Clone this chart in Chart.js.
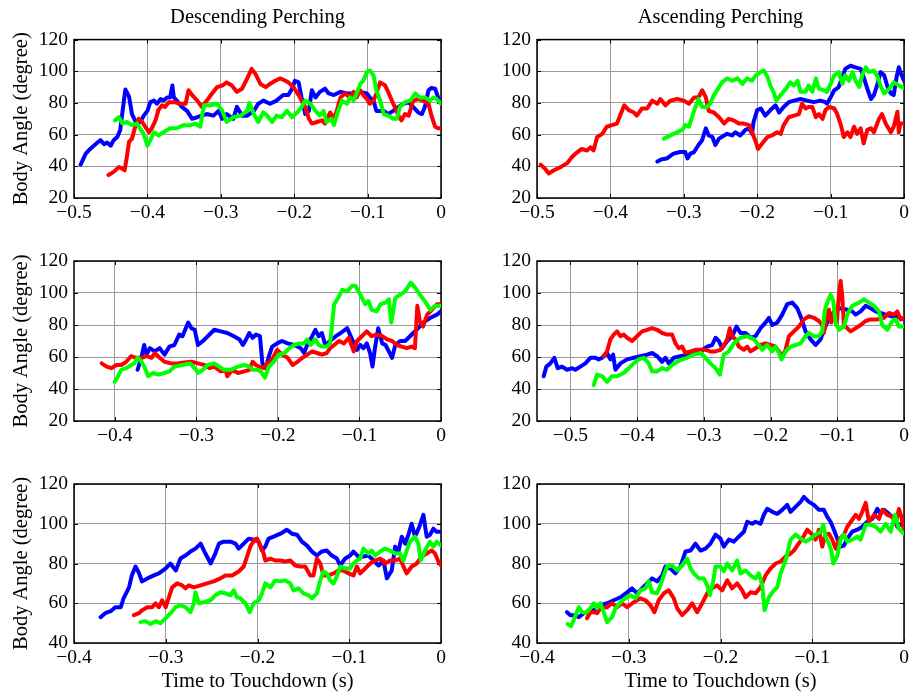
<!DOCTYPE html>
<html>
<head>
<meta charset="utf-8">
<script src="https://cdn.jsdelivr.net/npm/chart.js@4.4.0/dist/chart.umd.min.js"></script>
<style>
  html, body { margin: 0; padding: 0; background: #fff; }
  #fig { position: relative; width: 912px; height: 695px; overflow: hidden; background: #fff; }
  #fig canvas { position: absolute; }
</style>
</head>
<body>
<div id="fig"></div>
<script>
// Body angle (degree) versus time to touchdown (s), [t, angle] pairs per trial.

// ---- Descending perching ----
const desc1Blue = [[-0.491,41],[-0.484,48],[-0.478,51],[-0.468,55],[-0.464,56.5],[-0.459,54],[-0.455,55],[-0.45,53],[-0.446,56.5],[-0.441,58.5],[-0.437,63],[-0.432,81.5],[-0.43,88.5],[-0.425,84],[-0.421,73],[-0.416,68],[-0.41,68],[-0.405,72],[-0.4,75],[-0.396,80.5],[-0.391,81.5],[-0.387,79.5],[-0.382,82.5],[-0.378,81.5],[-0.373,83.5],[-0.369,83.5],[-0.366,91],[-0.364,83.5],[-0.36,81.5],[-0.353,77.5],[-0.346,75],[-0.339,70],[-0.332,71],[-0.326,72],[-0.319,73],[-0.31,72],[-0.303,75],[-0.298,70],[-0.292,73],[-0.283,70],[-0.278,77.5],[-0.271,72],[-0.264,72],[-0.255,75],[-0.249,79.5],[-0.242,81.5],[-0.233,79.5],[-0.224,81.5],[-0.215,85],[-0.208,85],[-0.203,89],[-0.199,94],[-0.194,93],[-0.19,83.5],[-0.185,73],[-0.18,75],[-0.176,88],[-0.171,83.5],[-0.165,87],[-0.158,89],[-0.153,86],[-0.146,85],[-0.137,87],[-0.128,86],[-0.119,86],[-0.11,87],[-0.101,86],[-0.097,83.5],[-0.092,81.5],[-0.088,75],[-0.078,75],[-0.072,73],[-0.065,75],[-0.058,77.5],[-0.051,79.5],[-0.044,80.5],[-0.038,77.5],[-0.031,74],[-0.026,73],[-0.022,77.5],[-0.017,88],[-0.013,89.5],[-0.008,89],[-0.004,83.5],[0,80.5]];
const desc1Red = [[-0.453,34.5],[-0.446,36.5],[-0.439,39.5],[-0.434,38.5],[-0.431,37.5],[-0.428,46],[-0.425,55.5],[-0.421,57.5],[-0.416,66],[-0.412,70],[-0.407,68],[-0.403,65],[-0.398,61.5],[-0.394,64],[-0.389,69],[-0.385,75.5],[-0.38,78.5],[-0.376,77.5],[-0.371,80.5],[-0.364,80.5],[-0.355,79.5],[-0.348,79.5],[-0.344,88],[-0.339,85],[-0.332,81.5],[-0.326,77.5],[-0.319,81.5],[-0.312,86],[-0.305,90],[-0.298,91],[-0.292,93],[-0.285,91],[-0.278,87],[-0.271,89],[-0.264,95.5],[-0.258,101.5],[-0.253,98.5],[-0.246,92],[-0.239,90],[-0.233,92],[-0.226,94],[-0.219,95.5],[-0.212,94],[-0.208,93],[-0.201,90],[-0.194,85],[-0.19,81.5],[-0.185,77.5],[-0.18,70],[-0.176,67],[-0.169,68],[-0.162,69],[-0.158,67],[-0.151,74],[-0.146,70],[-0.142,75],[-0.137,83.5],[-0.131,86],[-0.124,83.5],[-0.119,87],[-0.115,83.5],[-0.11,88],[-0.106,85],[-0.101,82.5],[-0.097,79.5],[-0.092,81.5],[-0.088,86],[-0.083,93],[-0.076,91],[-0.072,87],[-0.067,81.5],[-0.063,77.5],[-0.058,72],[-0.054,69],[-0.049,73],[-0.044,72],[-0.038,81.5],[-0.031,82.5],[-0.024,81.5],[-0.017,79.5],[-0.013,72],[-0.008,65],[-0.004,64],[0,64]];
const desc1Green = [[-0.444,69],[-0.439,71],[-0.434,67],[-0.428,68],[-0.421,66],[-0.414,67],[-0.41,64],[-0.405,60.5],[-0.4,53],[-0.396,56.5],[-0.391,61.5],[-0.385,59.5],[-0.378,61.5],[-0.369,64],[-0.36,64],[-0.351,66],[-0.341,66],[-0.335,67],[-0.328,65],[-0.323,78.5],[-0.314,78.5],[-0.305,79.5],[-0.298,75],[-0.292,68],[-0.283,71],[-0.273,72],[-0.264,75],[-0.261,80],[-0.255,73],[-0.249,68],[-0.242,74],[-0.237,72],[-0.23,68],[-0.224,72],[-0.217,71],[-0.21,75],[-0.203,71],[-0.196,74],[-0.19,77.5],[-0.185,81.5],[-0.178,79.5],[-0.171,75],[-0.165,72],[-0.16,75],[-0.156,68],[-0.149,70],[-0.146,66],[-0.14,75],[-0.135,81.5],[-0.128,79.5],[-0.124,83.5],[-0.119,81.5],[-0.115,86],[-0.11,92],[-0.106,94],[-0.101,99.5],[-0.097,100.5],[-0.092,97.5],[-0.088,88],[-0.083,81.5],[-0.078,73],[-0.072,72],[-0.065,70],[-0.06,70],[-0.056,77.5],[-0.049,80.5],[-0.042,81.5],[-0.035,86],[-0.029,83.5],[-0.022,83.5],[-0.015,81.5],[-0.01,83.5],[-0.006,82.5],[0,79.5]];

const desc2Blue = [[-0.372,52],[-0.367,60.5],[-0.364,67.5],[-0.361,61.5],[-0.357,65.5],[-0.351,63.5],[-0.345,65.5],[-0.339,61.5],[-0.333,66.5],[-0.327,67.5],[-0.321,74],[-0.317,73],[-0.31,81.5],[-0.306,78],[-0.302,77],[-0.298,67.5],[-0.292,70],[-0.286,73],[-0.278,77],[-0.27,76],[-0.262,75],[-0.254,73],[-0.247,71],[-0.243,67.5],[-0.239,71],[-0.235,75],[-0.231,72],[-0.227,74],[-0.222,73],[-0.219,56],[-0.215,53],[-0.211,60.5],[-0.207,66.5],[-0.201,68.5],[-0.195,70],[-0.188,68.5],[-0.18,67.5],[-0.172,65.5],[-0.168,62.5],[-0.164,67.5],[-0.158,73],[-0.154,77],[-0.15,73],[-0.146,75],[-0.142,67.5],[-0.136,70],[-0.129,73],[-0.123,75],[-0.115,78],[-0.109,71],[-0.103,64.5],[-0.099,67.5],[-0.095,65.5],[-0.091,68.5],[-0.087,62.5],[-0.084,54],[-0.081,65.5],[-0.077,78],[-0.072,68.5],[-0.068,67.5],[-0.064,63.5],[-0.06,59.5],[-0.056,67.5],[-0.05,70],[-0.044,70],[-0.038,73],[-0.03,77],[-0.022,81.5],[-0.013,84.5],[-0.005,86.5],[0,88.5]];
const desc2Red = [[-0.416,56],[-0.41,54],[-0.404,53],[-0.398,55],[-0.392,55],[-0.386,57],[-0.38,60.5],[-0.374,59.5],[-0.367,59.5],[-0.361,60.5],[-0.355,59.5],[-0.351,62.5],[-0.345,59.5],[-0.339,57],[-0.331,56],[-0.323,56],[-0.315,56.5],[-0.306,57],[-0.298,56],[-0.29,55],[-0.284,53],[-0.278,54],[-0.27,51],[-0.264,52],[-0.262,48],[-0.256,52],[-0.249,50],[-0.241,51],[-0.235,52],[-0.231,57],[-0.227,55],[-0.223,54],[-0.217,53],[-0.213,56],[-0.207,58.5],[-0.201,64.5],[-0.195,61.5],[-0.188,59.5],[-0.182,55],[-0.176,57],[-0.17,59.5],[-0.164,61.5],[-0.158,63.5],[-0.152,62.5],[-0.146,61.5],[-0.14,62.5],[-0.136,65.5],[-0.131,67.5],[-0.125,70],[-0.119,68.5],[-0.113,72],[-0.107,63.5],[-0.103,70],[-0.097,73],[-0.091,76],[-0.085,73],[-0.079,74],[-0.072,73],[-0.066,71],[-0.06,70],[-0.054,67.5],[-0.048,66.5],[-0.042,65.5],[-0.036,66.5],[-0.032,65.5],[-0.029,92],[-0.026,82.5],[-0.022,79],[-0.017,86.5],[-0.011,89.5],[-0.005,93],[0,93]];
const desc2Green = [[-0.4,44.5],[-0.396,48],[-0.392,52],[-0.386,53],[-0.38,55],[-0.376,56],[-0.372,59.5],[-0.367,57],[-0.363,53],[-0.359,48],[-0.353,50],[-0.347,49],[-0.339,50],[-0.333,51],[-0.327,54],[-0.317,55],[-0.308,56],[-0.302,53],[-0.298,50],[-0.292,52],[-0.286,55],[-0.278,56],[-0.272,54],[-0.266,52],[-0.258,52],[-0.249,54],[-0.241,55],[-0.235,54],[-0.231,52],[-0.225,52],[-0.221,51],[-0.216,47],[-0.211,54],[-0.205,57],[-0.199,61.5],[-0.192,62.5],[-0.186,65.5],[-0.18,67.5],[-0.174,68.5],[-0.168,68.5],[-0.164,71],[-0.16,67.5],[-0.154,71],[-0.15,67.5],[-0.146,66.5],[-0.14,66.5],[-0.136,68.5],[-0.131,93],[-0.125,98],[-0.121,102],[-0.115,101],[-0.109,104.5],[-0.105,104.5],[-0.099,99],[-0.093,93],[-0.089,95],[-0.085,89.5],[-0.079,88.5],[-0.074,93],[-0.068,94],[-0.064,96],[-0.061,81.5],[-0.056,97],[-0.05,99],[-0.044,101],[-0.037,106.5],[-0.032,103.5],[-0.026,99],[-0.02,95],[-0.013,89.5],[-0.007,92],[0,92]];

const desc3Blue = [[-0.371,53],[-0.366,55],[-0.36,56],[-0.355,58],[-0.349,58],[-0.346,62.5],[-0.34,68],[-0.337,74],[-0.333,78.5],[-0.329,75],[-0.326,71],[-0.32,72.5],[-0.313,74],[-0.3075,75],[-0.3,77.5],[-0.295,80],[-0.289,76.5],[-0.284,82.5],[-0.2785,84],[-0.273,86],[-0.2676,87.5],[-0.262,90],[-0.2568,85],[-0.251,80],[-0.246,85],[-0.242,90],[-0.237,91],[-0.2295,91],[-0.224,90],[-0.2205,87.5],[-0.215,90],[-0.2096,92.5],[-0.204,92],[-0.1987,91],[-0.195,86.5],[-0.1915,88.5],[-0.188,92.5],[-0.1824,93.5],[-0.175,95],[-0.168,97],[-0.1625,95],[-0.157,94.5],[-0.1516,91],[-0.146,89],[-0.1407,86],[-0.1353,84],[-0.13,86],[-0.1244,86.5],[-0.119,84],[-0.1135,82.5],[-0.11,79],[-0.1044,82.5],[-0.099,84],[-0.0954,86],[-0.09,83.5],[-0.0845,83.5],[-0.079,84],[-0.0736,81.5],[-0.068,79],[-0.0627,81.5],[-0.059,72.5],[-0.0537,76.5],[-0.05,88.5],[-0.0464,86],[-0.0428,93.5],[-0.039,90],[-0.0355,94.5],[-0.032,100],[-0.0283,93.5],[-0.0236,98.5],[-0.0192,104.5],[-0.0156,93.5],[-0.012,94.5],[-0.0083,97.5],[-0.0047,96],[0,96]];
const desc3Red = [[-0.3347,54],[-0.3293,55],[-0.3257,56.5],[-0.32,58],[-0.3148,58],[-0.3111,60],[-0.3075,58],[-0.304,61.5],[-0.3,58],[-0.2966,63],[-0.293,68],[-0.2876,70],[-0.2821,69],[-0.2785,67.5],[-0.2749,69],[-0.2694,68],[-0.2622,69],[-0.255,70],[-0.2477,71],[-0.2404,72.5],[-0.235,74],[-0.2277,74],[-0.2205,76],[-0.215,78.5],[-0.2114,83.5],[-0.2078,88.5],[-0.2034,92],[-0.2005,92.5],[-0.1969,89],[-0.1933,85],[-0.1915,81.5],[-0.186,82.5],[-0.1806,81.5],[-0.1752,81.5],[-0.1697,81],[-0.1643,81.5],[-0.1588,79],[-0.1534,78.5],[-0.148,78.5],[-0.1425,74],[-0.1389,74],[-0.1353,82.5],[-0.1316,80],[-0.128,74],[-0.1226,74],[-0.1171,75],[-0.1117,76.5],[-0.1063,76.5],[-0.1008,75],[-0.0954,74],[-0.0917,78.5],[-0.0881,75],[-0.0827,77.5],[-0.0772,80],[-0.0718,81.5],[-0.0664,82.5],[-0.0609,80],[-0.0555,81.5],[-0.05,81.5],[-0.0446,82.5],[-0.041,78.5],[-0.0374,75],[-0.0319,78.5],[-0.0265,80],[-0.021,83.5],[-0.0156,85],[-0.0102,86.5],[-0.0065,85],[-0.0029,81],[0,79]];
const desc3Green = [[-0.3275,50.5],[-0.322,51],[-0.3166,49.5],[-0.3111,51],[-0.3057,50],[-0.3,52.5],[-0.2948,55],[-0.2894,58],[-0.284,59],[-0.2785,58],[-0.2731,55.5],[-0.2694,60],[-0.2676,65.5],[-0.264,60],[-0.2586,60.5],[-0.2513,61.5],[-0.2459,64],[-0.2404,65.5],[-0.235,65],[-0.2296,64],[-0.2259,66.5],[-0.2223,63],[-0.2187,62.5],[-0.2132,60],[-0.2085,55.5],[-0.2042,60],[-0.1987,61.5],[-0.1951,65],[-0.1915,70],[-0.186,68],[-0.1806,71.5],[-0.1752,71],[-0.1697,71.5],[-0.1643,70],[-0.1607,66.5],[-0.1552,67.5],[-0.1498,65],[-0.1443,64],[-0.1407,62.5],[-0.1353,65],[-0.1316,71.5],[-0.128,76],[-0.1244,75],[-0.1208,71.5],[-0.1171,70],[-0.1135,73.5],[-0.1099,78.5],[-0.1044,77.5],[-0.099,77.5],[-0.0954,80],[-0.0917,81.5],[-0.0881,82.5],[-0.0845,87.5],[-0.0791,85],[-0.0754,86.5],[-0.0718,84],[-0.0664,86],[-0.0609,87.5],[-0.0555,86.5],[-0.05,85],[-0.0446,85],[-0.041,81.5],[-0.0374,86.5],[-0.0337,91],[-0.0283,93.5],[-0.0247,90],[-0.0221,81.5],[-0.0174,86.5],[-0.012,91],[-0.0083,88.5],[-0.0047,91],[0,89]];

// ---- Ascending perching ----
const asc1Blue = [[-0.336,43],[-0.33,44.5],[-0.323,45],[-0.314,48],[-0.305,49],[-0.298,49],[-0.295,45],[-0.291,48],[-0.286,49],[-0.28,53.5],[-0.275,56.5],[-0.27,64],[-0.266,59.5],[-0.261,58.5],[-0.257,53.5],[-0.252,57.5],[-0.245,59.5],[-0.241,60.5],[-0.234,59.5],[-0.23,61.5],[-0.223,59.5],[-0.216,63],[-0.211,64],[-0.207,60.5],[-0.205,68],[-0.2,75.5],[-0.195,76.5],[-0.189,72],[-0.182,75.5],[-0.175,78.5],[-0.17,74],[-0.164,77.5],[-0.157,80.5],[-0.15,81.5],[-0.141,82.5],[-0.132,81.5],[-0.123,80.5],[-0.114,81.5],[-0.107,80.5],[-0.105,79.5],[-0.1,83.5],[-0.095,88],[-0.089,90],[-0.084,96.5],[-0.08,101.5],[-0.073,103.5],[-0.066,102.5],[-0.059,101.5],[-0.055,96.5],[-0.05,89],[-0.045,82.5],[-0.041,85],[-0.036,92],[-0.032,99.5],[-0.027,97.5],[-0.023,91],[-0.018,86],[-0.014,85],[-0.01,96.5],[-0.007,102.5],[-0.004,98.5],[0,94]];
const asc1Red = [[-0.495,41],[-0.489,38.5],[-0.484,35.5],[-0.477,37.5],[-0.468,39.5],[-0.459,42],[-0.452,46],[-0.445,49],[-0.439,51],[-0.432,50],[-0.427,52],[-0.423,50],[-0.418,58.5],[-0.411,60.5],[-0.405,65],[-0.398,66],[-0.391,67],[-0.386,73],[-0.381,78.5],[-0.375,75.5],[-0.368,74],[-0.364,72],[-0.357,76.5],[-0.35,76.5],[-0.343,81.5],[-0.336,79.5],[-0.332,82.5],[-0.325,78.5],[-0.318,81.5],[-0.309,82.5],[-0.3,81.5],[-0.293,79.5],[-0.286,83.5],[-0.28,83.5],[-0.275,88],[-0.27,83.5],[-0.266,75],[-0.259,74],[-0.252,71],[-0.245,67],[-0.239,70],[-0.232,69],[-0.225,67],[-0.218,67],[-0.211,66],[-0.207,61.5],[-0.202,55.5],[-0.199,51],[-0.193,54.5],[-0.186,58.5],[-0.18,59.5],[-0.173,61.5],[-0.168,60.5],[-0.164,66],[-0.157,71],[-0.15,72],[-0.143,73],[-0.139,79.5],[-0.134,76.5],[-0.13,77.5],[-0.125,77.5],[-0.12,71],[-0.116,73],[-0.111,70],[-0.107,75.5],[-0.102,77.5],[-0.095,76.5],[-0.091,73],[-0.086,66],[-0.082,58.5],[-0.077,61.5],[-0.073,58.5],[-0.068,65],[-0.064,60.5],[-0.059,64],[-0.055,54.5],[-0.05,63],[-0.045,64],[-0.041,61.5],[-0.034,70],[-0.03,73],[-0.025,67],[-0.018,61.5],[-0.014,65],[-0.009,74.5],[-0.007,61.5],[-0.005,67],[0,67]];
const asc1Green = [[-0.327,57.5],[-0.314,60.5],[-0.302,63],[-0.298,66],[-0.293,65],[-0.286,75],[-0.28,82.5],[-0.275,77.5],[-0.268,77.5],[-0.264,79.5],[-0.259,85],[-0.252,90],[-0.248,93],[-0.241,95.5],[-0.234,94],[-0.227,95.5],[-0.22,92],[-0.214,95.5],[-0.207,94],[-0.202,97.5],[-0.195,99.5],[-0.191,100.5],[-0.186,96.5],[-0.182,91],[-0.177,86],[-0.174,81.5],[-0.168,85],[-0.161,89],[-0.155,93],[-0.15,91],[-0.145,94],[-0.141,87],[-0.134,87],[-0.13,91],[-0.125,87],[-0.12,95.5],[-0.116,89],[-0.109,88],[-0.105,87],[-0.1,92],[-0.095,97.5],[-0.089,99.5],[-0.084,92],[-0.08,97.5],[-0.075,94],[-0.07,99.5],[-0.066,94],[-0.061,90],[-0.057,97.5],[-0.052,102.5],[-0.048,99.5],[-0.041,100.5],[-0.036,96.5],[-0.032,91],[-0.027,86],[-0.02,89],[-0.014,93],[-0.007,91],[0,89.5]];

const asc2Blue = [[-0.54,48],[-0.536,54],[-0.53,56],[-0.524,59.5],[-0.519,53],[-0.5125,54],[-0.505,52],[-0.4975,53],[-0.4925,52],[-0.485,54],[-0.4775,56],[-0.47,59.5],[-0.4625,59.5],[-0.4575,58.5],[-0.4525,59.5],[-0.445,62.5],[-0.44,58.5],[-0.436,61.5],[-0.4325,52],[-0.425,56],[-0.415,58.5],[-0.405,59.5],[-0.395,60.5],[-0.385,61.5],[-0.3775,62.5],[-0.37,60.5],[-0.3625,57],[-0.3575,59.5],[-0.3525,56],[-0.345,59.5],[-0.335,60.5],[-0.325,61.5],[-0.315,62.5],[-0.305,63.5],[-0.295,66.5],[-0.2875,67.5],[-0.2825,72],[-0.2775,70],[-0.2725,65.5],[-0.265,70],[-0.2575,73],[-0.251,79],[-0.245,75],[-0.2375,75],[-0.23,72],[-0.2225,73],[-0.215,78],[-0.2075,81.5],[-0.2025,84.5],[-0.1975,80],[-0.19,81.5],[-0.1825,86.5],[-0.175,93],[-0.1675,94],[-0.16,90.5],[-0.155,85.5],[-0.1475,76],[-0.14,71],[-0.1325,67.5],[-0.125,71],[-0.12,77],[-0.115,81.5],[-0.11,85.5],[-0.1025,89.5],[-0.095,90.5],[-0.085,89.5],[-0.0775,88.5],[-0.0725,86.5],[-0.065,88.5],[-0.0575,92],[-0.05,90.5],[-0.0425,88.5],[-0.035,87.5],[-0.0275,86.5],[-0.02,85.5],[-0.0125,85.5],[-0.005,84.5],[0,83.5]];
const asc2Red = [[-0.45,60.5],[-0.445,63.5],[-0.44,71],[-0.435,74],[-0.43,76],[-0.425,73],[-0.42,74],[-0.415,72],[-0.4075,70],[-0.4,73],[-0.3925,76],[-0.385,77],[-0.3775,78],[-0.37,77],[-0.3625,75],[-0.355,74],[-0.3475,74],[-0.3425,68.5],[-0.3375,65.5],[-0.3325,66.5],[-0.3275,62.5],[-0.32,63.5],[-0.3125,64.5],[-0.305,64.5],[-0.2975,64.5],[-0.29,63.5],[-0.2825,63.5],[-0.275,64.5],[-0.27,67.5],[-0.265,71],[-0.261,78],[-0.2575,73],[-0.2525,71],[-0.2475,66.5],[-0.24,64.5],[-0.235,66.5],[-0.23,63.5],[-0.2225,65.5],[-0.215,67.5],[-0.2075,68.5],[-0.2,67.5],[-0.1925,66.5],[-0.1875,63.5],[-0.1825,60.5],[-0.1775,64.5],[-0.1725,73],[-0.165,76],[-0.1575,79],[-0.15,83.5],[-0.1425,85.5],[-0.135,84.5],[-0.1275,82.5],[-0.1225,80],[-0.12,75],[-0.1165,83.5],[-0.1125,89.5],[-0.109,81.5],[-0.105,87.5],[-0.101,80],[-0.0975,99],[-0.095,107.5],[-0.0925,98],[-0.09,80],[-0.085,78],[-0.08,76],[-0.0725,78],[-0.065,80],[-0.0575,82.5],[-0.05,83.5],[-0.04,83.5],[-0.03,84.5],[-0.0225,87.5],[-0.015,86.5],[-0.01,88.5],[-0.005,83.5],[0,84.5]];
const asc2Green = [[-0.465,42.5],[-0.46,49],[-0.4525,48],[-0.445,44.5],[-0.4375,48],[-0.43,48],[-0.42,50],[-0.4125,53],[-0.405,56],[-0.3975,58.5],[-0.39,59.5],[-0.3825,56],[-0.3775,51],[-0.37,51],[-0.3625,53],[-0.355,52],[-0.3475,55],[-0.34,57],[-0.3325,58.5],[-0.325,59.5],[-0.315,61.5],[-0.305,62.5],[-0.2975,59.5],[-0.29,56],[-0.2825,53],[-0.276,49],[-0.27,61.5],[-0.2625,63.5],[-0.255,68.5],[-0.245,72],[-0.235,73],[-0.225,71],[-0.2175,67.5],[-0.2125,64.5],[-0.205,67.5],[-0.1975,63.5],[-0.1925,66.5],[-0.1875,62.5],[-0.1835,58.5],[-0.1775,63.5],[-0.17,66.5],[-0.1625,67.5],[-0.155,68.5],[-0.1475,73],[-0.1425,75],[-0.135,73],[-0.1275,73],[-0.1225,76],[-0.1185,89.5],[-0.115,94],[-0.11,99],[-0.106,95],[-0.1025,81.5],[-0.0975,77],[-0.09,79],[-0.085,86.5],[-0.0775,92],[-0.0675,94],[-0.06,96],[-0.0525,94],[-0.045,92],[-0.0375,88.5],[-0.0325,80],[-0.025,77],[-0.0175,82.5],[-0.0125,83.5],[-0.0075,79],[0,79]];

const asc3Blue = [[-0.3673,55.5],[-0.3636,54],[-0.36,54],[-0.3545,53],[-0.3491,55],[-0.3436,55.5],[-0.3382,56.5],[-0.3309,59],[-0.3236,60],[-0.3164,61.5],[-0.3091,63],[-0.3018,65.5],[-0.2964,67.5],[-0.2909,65],[-0.2855,67.5],[-0.28,70],[-0.2745,72.5],[-0.2691,71],[-0.2636,74],[-0.26,78.5],[-0.2545,77.5],[-0.2491,75],[-0.2436,78.5],[-0.2382,86],[-0.2327,86.5],[-0.2273,90],[-0.2218,86.5],[-0.2164,87.5],[-0.2109,90],[-0.2055,94.5],[-0.2,92.5],[-0.1964,88.5],[-0.1909,92],[-0.1855,91],[-0.18,93.5],[-0.1745,96],[-0.1709,101],[-0.1655,100],[-0.1618,101],[-0.1564,100],[-0.1527,104.5],[-0.1491,107.5],[-0.1436,106],[-0.1382,105],[-0.1327,107],[-0.1273,109.5],[-0.1236,106],[-0.1182,108.5],[-0.1127,111],[-0.1091,113.5],[-0.1036,111],[-0.0982,109.5],[-0.0927,107],[-0.0873,107],[-0.0836,103.5],[-0.08,101],[-0.0764,97],[-0.0727,92.5],[-0.0691,88.5],[-0.0655,89],[-0.0618,92.5],[-0.0564,96],[-0.0509,97],[-0.0455,98.5],[-0.04,101],[-0.0345,102.5],[-0.0291,107.5],[-0.0255,105],[-0.0218,107],[-0.0164,105],[-0.0109,102.5],[-0.0073,98.5],[-0.0036,100],[0,98.5]];
const asc3Red = [[-0.3455,52.5],[-0.3418,55.5],[-0.3382,55.5],[-0.3345,55],[-0.3309,57.5],[-0.3236,58],[-0.3182,60],[-0.3127,58],[-0.3073,60],[-0.3018,58],[-0.2945,60.5],[-0.2873,62.5],[-0.2818,61.5],[-0.2764,59],[-0.272,55.5],[-0.2673,61.5],[-0.2618,65],[-0.2564,66.5],[-0.2509,62.5],[-0.2473,57.5],[-0.2418,54],[-0.2364,56.5],[-0.2309,60],[-0.2255,55.5],[-0.22,60],[-0.2145,65],[-0.2091,67.5],[-0.2036,69],[-0.1982,66.5],[-0.1927,71.5],[-0.1873,67.5],[-0.1818,70],[-0.1764,66.5],[-0.1727,63],[-0.1673,65.5],[-0.1618,65],[-0.1564,68],[-0.1509,74],[-0.1455,77.5],[-0.14,80],[-0.1345,81],[-0.1291,83.5],[-0.1236,85],[-0.12,86.5],[-0.1164,89],[-0.1109,92.5],[-0.1055,97],[-0.1,94.5],[-0.0964,92],[-0.0927,97],[-0.0891,88.5],[-0.0855,94.5],[-0.0818,95],[-0.0782,92],[-0.0745,87.5],[-0.0709,92],[-0.0655,94.5],[-0.0618,98.5],[-0.0564,102],[-0.0527,104.5],[-0.0491,102.5],[-0.0455,106],[-0.0418,110.5],[-0.0382,101],[-0.0327,104.5],[-0.0273,102.5],[-0.0236,107],[-0.0182,104.5],[-0.0127,103.5],[-0.0091,100],[-0.0055,107.5],[-0.0029,103.5],[0,97]];
const asc3Green = [[-0.3665,49.5],[-0.3629,48.5],[-0.36,51.5],[-0.3545,58],[-0.3509,55.5],[-0.3473,55],[-0.3418,57.5],[-0.3382,60],[-0.3345,57.5],[-0.3309,60],[-0.3273,55.5],[-0.3236,50.5],[-0.3182,53],[-0.3145,57.5],[-0.3091,60.5],[-0.3036,62.5],[-0.2982,64],[-0.2927,62.5],[-0.2873,66.5],[-0.2818,67.5],[-0.2782,71],[-0.2745,65.5],[-0.2691,65],[-0.2655,69],[-0.2618,74],[-0.2582,78.5],[-0.2527,79],[-0.2473,76.5],[-0.2418,79],[-0.2364,82.5],[-0.2327,77.5],[-0.2291,75],[-0.2236,72.5],[-0.2182,72.5],[-0.2145,69],[-0.2116,64],[-0.208,71],[-0.2055,78.5],[-0.2,78.5],[-0.1964,76],[-0.1927,80],[-0.1873,76.5],[-0.1818,81.5],[-0.1782,75],[-0.1727,76.5],[-0.1673,74],[-0.1618,72.5],[-0.1582,75],[-0.1545,69],[-0.152,56.5],[-0.1473,63],[-0.1418,66.5],[-0.1382,68],[-0.1345,75],[-0.1291,81.5],[-0.1236,92],[-0.1182,94.5],[-0.1127,92.5],[-0.1073,91],[-0.1018,92.5],[-0.0964,94.5],[-0.0909,96],[-0.088,99.5],[-0.0855,93.5],[-0.0818,90],[-0.0793,86.5],[-0.0771,80],[-0.0727,84],[-0.0691,92],[-0.0655,94.5],[-0.0618,91],[-0.0564,92],[-0.0509,93.5],[-0.0473,92],[-0.0418,99.5],[-0.0364,99.5],[-0.0309,98.5],[-0.0255,96],[-0.02,100],[-0.0145,96],[-0.0098,104.5],[-0.0055,97.5],[0,95]];

// ---- Tick values ----
const timeTicksHalf = [-0.5, -0.4, -0.3, -0.2, -0.1, 0];
const timeTicksShort = [-0.4, -0.3, -0.2, -0.1, 0];
const angleTicksWide = [20, 40, 60, 80, 100, 120];
const angleTicksNarrow = [40, 60, 80, 100, 120];

const columnTitles = ['Descending Perching', 'Ascending Perching'];
const angleLabel = 'Body Angle (degree)';
const timeLabel = 'Time to Touchdown (s)';

const SERIF = "'Liberation Serif', 'Times New Roman', Times, serif";
const BLUE = '#0000ff', RED = '#ff0000', GREEN = '#00ff00';
const GRID = '#9a9a9a';

function fmtTime(v) {
  const r = Math.round(v * 10) / 10;
  if (r === 0) return '0';
  return (r < 0 ? '\u2212' : '') + Math.abs(r).toFixed(1);
}

// Axes box with short inward tick marks on all four sides
const framePlugin = {
  id: 'frame',
  beforeDatasetsDraw(chart) {
    const {ctx, chartArea: a, scales: {x, y}} = chart;
    const tl = 4;
    ctx.save();
    ctx.strokeStyle = '#000';
    ctx.lineWidth = 1;
    ctx.beginPath();
    x.ticks.forEach(t => {
      const px = Math.round(x.getPixelForValue(t.value)) + 0.5;
      ctx.moveTo(px, a.bottom); ctx.lineTo(px, a.bottom - tl);
      ctx.moveTo(px, a.top); ctx.lineTo(px, a.top + tl);
    });
    y.ticks.forEach(t => {
      const py = Math.round(y.getPixelForValue(t.value)) + 0.5;
      ctx.moveTo(a.left, py); ctx.lineTo(a.left + tl, py);
      ctx.moveTo(a.right, py); ctx.lineTo(a.right - tl, py);
    });
    ctx.stroke();
    ctx.lineWidth = 1.5;
    ctx.strokeRect(a.left, a.top, a.right - a.left, a.bottom - a.top);
    ctx.restore();
  }
};

const fig = document.getElementById('fig');

function makePanel(p) {
  const c = document.createElement('canvas');
  c.width = p.w; c.height = p.h;
  c.style.left = p.left + 'px'; c.style.top = p.top + 'px';
  c.style.width = p.w + 'px'; c.style.height = p.h + 'px';
  fig.appendChild(c);

  const tickFont = {family: SERIF, size: 19.5, weight: 'normal', lineHeight: 1.2};
  const titleFont = {family: SERIF, size: 20.5, weight: 'normal', lineHeight: 1.2};
  const lines = [
    {data: p.blue, color: BLUE, order: 2},
    {data: p.red, color: RED, order: 1},
    {data: p.green, color: GREEN, order: 0}
  ];

  new Chart(c, {
    type: 'line',
    data: {
      datasets: lines.map(s => ({
        data: s.data.map(([t, a]) => ({x: t, y: a})),
        borderColor: s.color,
        backgroundColor: s.color,
        borderWidth: 4,
        borderJoinStyle: 'round',
        borderCapStyle: 'round',
        pointRadius: 0,
        tension: 0,
        fill: false,
        order: s.order
      }))
    },
    options: {
      responsive: false,
      animation: false,
      events: [],
      layout: {padding: {left: 0, right: p.padR, top: p.padT, bottom: 0}},
      plugins: {
        legend: {display: false},
        tooltip: {enabled: false},
        title: p.title ? {
          display: true, text: p.title, color: '#000', fullSize: false,
          font: titleFont, padding: {top: 2, bottom: 10}
        } : {display: false}
      },
      scales: {
        x: {
          type: 'linear', min: p.xMin, max: 0,
          afterBuildTicks: s => { s.ticks = p.xTicks.map(v => ({value: v})); },
          afterFit: s => { s.height = p.xH; },
          ticks: {callback: fmtTime, font: tickFont, color: '#000', padding: 3, maxRotation: 0, autoSkip: false},
          grid: {color: GRID, lineWidth: 1, drawTicks: false},
          border: {display: false},
          title: {display: p.xTitle, text: timeLabel, color: '#000', font: titleFont, padding: {top: 0, bottom: 1}}
        },
        y: {
          min: p.yTicks[0], max: 120,
          afterBuildTicks: s => { s.ticks = p.yTicks.map(v => ({value: v})); },
          afterFit: s => { s.width = p.yW; },
          ticks: {font: tickFont, color: '#000', padding: 6, autoSkip: false},
          grid: {color: GRID, lineWidth: 1, drawTicks: false},
          border: {display: false},
          title: {display: p.yTitle, text: angleLabel, color: '#000', font: titleFont, padding: {top: 9, bottom: 0}}
        }
      }
    },
    plugins: [framePlugin]
  });
}

// Left column: descending perching; right column: ascending perching
const L = {left: 0, w: 456, yW: 74, padR: 15, yTitle: true};
const R = {left: 477, w: 435, yW: 60, padR: 8, yTitle: false};
const row1 = {top: 0, h: 238, padT: 3, xH: 40, xTitle: false, yTicks: angleTicksWide};
const row2 = {top: 241, h: 220, padT: 20, xH: 40, xTitle: false, yTicks: angleTicksWide};
const row3 = {top: 464, h: 231, padT: 20, xH: 52, xTitle: true, yTicks: angleTicksNarrow};

makePanel({...L, ...row1, title: columnTitles[0], xMin: -0.5, xTicks: timeTicksHalf, blue: desc1Blue, red: desc1Red, green: desc1Green});
makePanel({...R, ...row1, title: columnTitles[1], xMin: -0.5, xTicks: timeTicksHalf, blue: asc1Blue, red: asc1Red, green: asc1Green});
makePanel({...L, ...row2, xMin: -0.45, xTicks: timeTicksShort, blue: desc2Blue, red: desc2Red, green: desc2Green});
makePanel({...R, ...row2, xMin: -0.55, xTicks: timeTicksHalf, blue: asc2Blue, red: asc2Red, green: asc2Green});
makePanel({...L, ...row3, xMin: -0.4, xTicks: timeTicksShort, blue: desc3Blue, red: desc3Red, green: desc3Green});
makePanel({...R, ...row3, xMin: -0.4, xTicks: timeTicksShort, blue: asc3Blue, red: asc3Red, green: asc3Green});
</script>
</body>
</html>
